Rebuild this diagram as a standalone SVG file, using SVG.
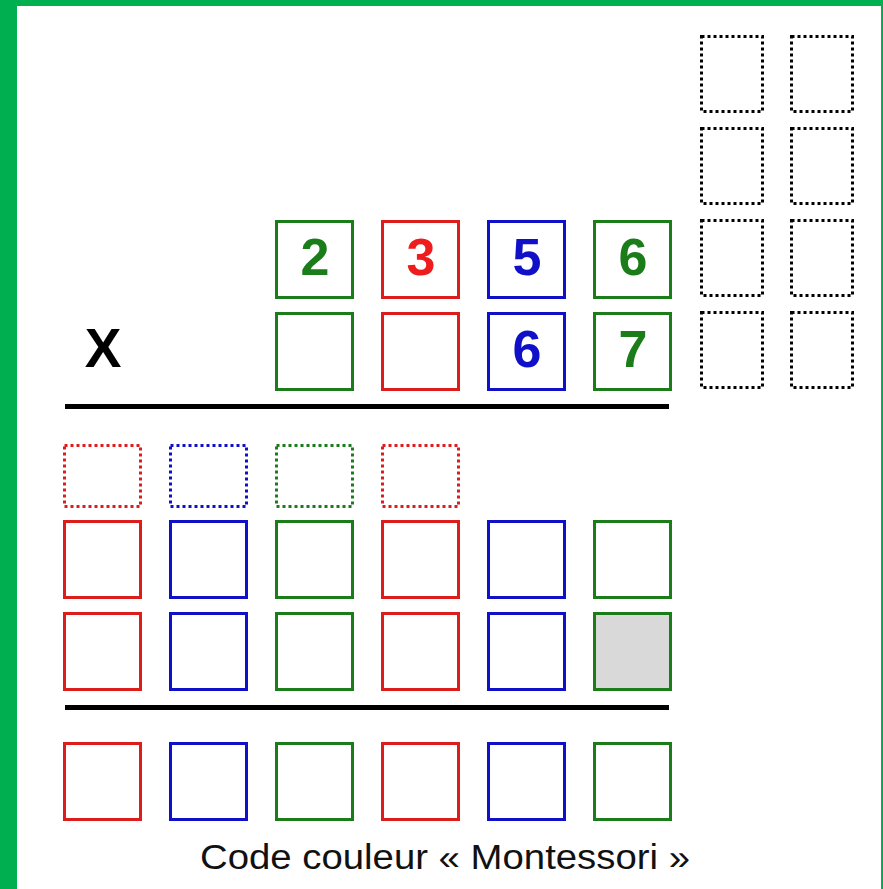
<svg xmlns="http://www.w3.org/2000/svg" width="883" height="889" viewBox="0 0 883 889">
<style>
.sq{fill:#fff;stroke-width:3}
.dot{fill:none;stroke-width:3;stroke-dasharray:3 3}
.r{stroke:#dd1c1c}
.b{stroke:#1010c8}
.g{stroke:#1a7d1a}
.k{stroke:#000}
.num{font-family:"Liberation Sans",Arial,sans-serif;font-weight:bold;font-size:52px;text-anchor:middle}
.rule{stroke:#000;stroke-width:5}
</style>
<rect x="0" y="0" width="883" height="889" fill="#00b050"/>
<rect x="17" y="6" width="864" height="883" fill="#fff"/>
<g id="multiplicand">
<g id="m1"><rect class="sq g" x="276.5" y="221.5" width="76" height="76"/><text class="num" x="315" y="275" fill="#1a7d1a">2</text></g>
<g id="m2"><rect class="sq r" x="382.5" y="221.5" width="76" height="76"/><text class="num" x="421" y="275" fill="#ee1c1c">3</text></g>
<g id="m3"><rect class="sq b" x="488.5" y="221.5" width="76" height="76"/><text class="num" x="527" y="275" fill="#1010c8">5</text></g>
<g id="m4"><rect class="sq g" x="594.5" y="221.5" width="76" height="76"/><text class="num" x="633" y="275" fill="#1a7d1a">6</text></g>
</g>
<g id="multiplier">
<text x="103" y="367" font-family="Liberation Sans,Arial,sans-serif" font-weight="bold" font-size="55" text-anchor="middle" fill="#000">X</text>
<g id="n1"><rect class="sq g" x="276.5" y="313.5" width="76" height="76"/></g>
<g id="n2"><rect class="sq r" x="382.5" y="313.5" width="76" height="76"/></g>
<g id="n3"><rect class="sq b" x="488.5" y="313.5" width="76" height="76"/><text class="num" x="527" y="367" fill="#1010c8">6</text></g>
<g id="n4"><rect class="sq g" x="594.5" y="313.5" width="76" height="76"/><text class="num" x="633" y="367" fill="#1a7d1a">7</text></g>
</g>
<g id="carries-right">
<rect class="dot k" x="701.5" y="36.5" width="61" height="75"/>
<rect class="dot k" x="791.5" y="36.5" width="61" height="75"/>
<rect class="dot k" x="701.5" y="128.5" width="61" height="75"/>
<rect class="dot k" x="791.5" y="128.5" width="61" height="75"/>
<rect class="dot k" x="701.5" y="220.5" width="61" height="75"/>
<rect class="dot k" x="791.5" y="220.5" width="61" height="75"/>
<rect class="dot k" x="701.5" y="312.5" width="61" height="75"/>
<rect class="dot k" x="791.5" y="312.5" width="61" height="75"/>
</g>
<g id="rules">
<line class="rule" x1="65" y1="406.5" x2="669" y2="406.5"/>
<line class="rule" x1="65" y1="707.5" x2="669" y2="707.5"/>
</g>
<g id="carries-bottom">
<rect class="dot r" x="64.5" y="445.5" width="76" height="61" stroke="#c0203a"/>
<rect class="dot b" x="170.5" y="445.5" width="76" height="61"/>
<rect class="dot g" x="276.5" y="445.5" width="76" height="61"/>
<rect class="dot r" x="382.5" y="445.5" width="76" height="61"/>
</g>
<g id="partial1">
<rect class="sq r" x="64.5" y="521.5" width="76" height="76"/>
<rect class="sq b" x="170.5" y="521.5" width="76" height="76"/>
<rect class="sq g" x="276.5" y="521.5" width="76" height="76"/>
<rect class="sq r" x="382.5" y="521.5" width="76" height="76"/>
<rect class="sq b" x="488.5" y="521.5" width="76" height="76"/>
<rect class="sq g" x="594.5" y="521.5" width="76" height="76"/>
</g>
<g id="partial2">
<rect class="sq r" x="64.5" y="613.5" width="76" height="76"/>
<rect class="sq b" x="170.5" y="613.5" width="76" height="76"/>
<rect class="sq g" x="276.5" y="613.5" width="76" height="76"/>
<rect class="sq r" x="382.5" y="613.5" width="76" height="76"/>
<rect class="sq b" x="488.5" y="613.5" width="76" height="76"/>
<rect class="sq g" x="594.5" y="613.5" width="76" height="76" style="fill:#d9d9d9"/>
</g>
<g id="result">
<rect class="sq r" x="64.5" y="743.5" width="76" height="76"/>
<rect class="sq b" x="170.5" y="743.5" width="76" height="76"/>
<rect class="sq g" x="276.5" y="743.5" width="76" height="76"/>
<rect class="sq r" x="382.5" y="743.5" width="76" height="76"/>
<rect class="sq b" x="488.5" y="743.5" width="76" height="76"/>
<rect class="sq g" x="594.5" y="743.5" width="76" height="76"/>
</g>
<text id="caption" x="445" y="869" font-family="Liberation Sans,Arial,sans-serif" font-size="35" text-anchor="middle" textLength="490" lengthAdjust="spacingAndGlyphs" fill="#111">Code couleur « Montessori »</text>
</svg>
